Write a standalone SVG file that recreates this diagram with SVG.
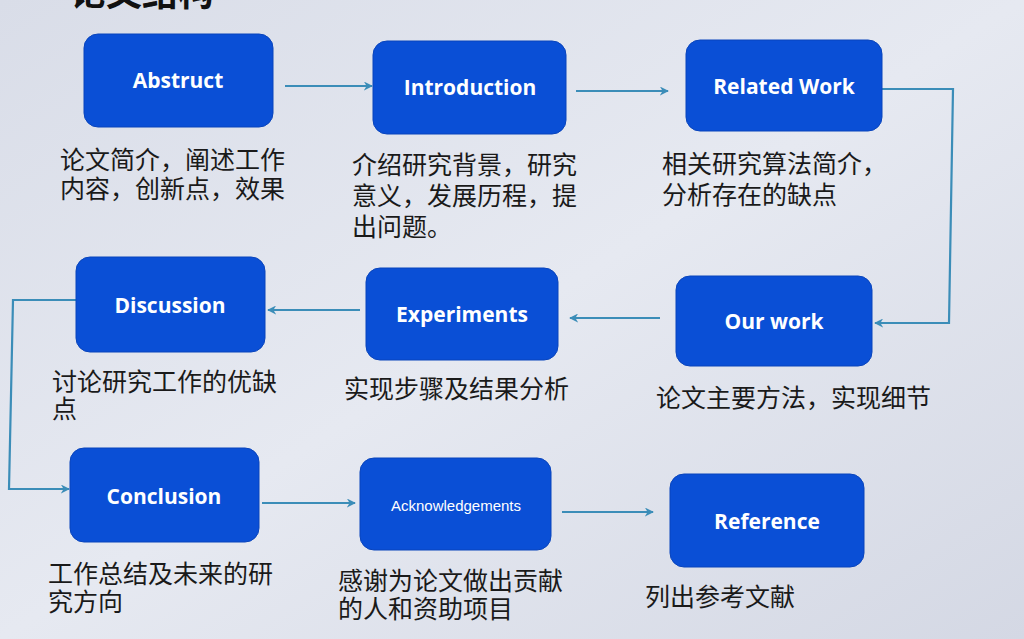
<svg xmlns="http://www.w3.org/2000/svg" width="1024" height="639" viewBox="0 0 1024 639">
<defs>
<linearGradient id="bg" x1="0" y1="0" x2="1" y2="1">
<stop offset="0" stop-color="#d9dde8"/>
<stop offset="0.5" stop-color="#e6e9f1"/>
<stop offset="1" stop-color="#d4d8e4"/>
</linearGradient>
<marker id="ah" viewBox="0 0 10 10" refX="9" refY="5" markerWidth="9" markerHeight="9" markerUnits="userSpaceOnUse" orient="auto">
<path d="M0,0 L10,5 L0,10 L3,5 Z" fill="#3b8db8"/>
</marker>
</defs>
<style>
.box{fill:#0a4fd6;stroke:#0944bc;stroke-width:1}
.lbl{fill:#ffffff;font-family:"Open Sans","Liberation Sans",sans-serif;font-weight:700;font-size:21px;text-anchor:middle}
.lbl2{fill:#ffffff;font-family:"Liberation Sans",sans-serif;font-size:15px;text-anchor:middle}
.desc{fill:#1a1a1a;font-family:"Noto Sans CJK SC",sans-serif;font-size:25px}
.con{fill:none;stroke:#3b8db8;stroke-width:2.2;marker-end:url(#ah)}
</style>
<rect width="1024" height="639" fill="url(#bg)"/>
<text x="70" y="6" style="fill:#111;font-family:'Noto Sans CJK SC',sans-serif;font-weight:700;font-size:36px">论文结构</text>
<g id="connectors">
<path class="con" d="M285,86 L372,86"/>
<path class="con" d="M576,91 L668,91"/>
<path class="con" d="M882,89 L953,89 L949,323 L875,323"/>
<path class="con" d="M660,318 L570,318"/>
<path class="con" d="M360,310 L268,310"/>
<path class="con" d="M76,300 L13,300 L9,489 L69,489"/>
<path class="con" d="M262,503 L355,503"/>
<path class="con" d="M562,512 L653,512"/>
</g>
<g id="abstruct">
<rect class="box" x="84" y="34" width="189" height="93" rx="14"/>
<text class="lbl" x="178" y="88">Abstruct</text>
<text class="desc" x="60" y="169">论文简介，阐述工作</text>
<text class="desc" x="60" y="198">内容，创新点，效果</text>
</g>
<g id="introduction">
<rect class="box" x="373" y="41" width="193" height="93" rx="14"/>
<text class="lbl" x="470" y="95">Introduction</text>
<text class="desc" x="352" y="174">介绍研究背景，研究</text>
<text class="desc" x="352" y="205">意义，发展历程，提</text>
<text class="desc" x="352" y="236">出问题。</text>
</g>
<g id="related-work">
<rect class="box" x="686" y="40" width="196" height="91" rx="14"/>
<text class="lbl" x="784" y="94">Related Work</text>
<text class="desc" x="662" y="173">相关研究算法简介，</text>
<text class="desc" x="662" y="204">分析存在的缺点</text>
</g>
<g id="our-work">
<rect class="box" x="676" y="276" width="196" height="90" rx="14"/>
<text class="lbl" x="774" y="329">Our work</text>
<text class="desc" x="656" y="407">论文主要方法，实现细节</text>
</g>
<g id="experiments">
<rect class="box" x="366" y="268" width="192" height="92" rx="14"/>
<text class="lbl" x="462" y="322">Experiments</text>
<text class="desc" x="344" y="398">实现步骤及结果分析</text>
</g>
<g id="discussion">
<rect class="box" x="76" y="257" width="189" height="95" rx="14"/>
<text class="lbl" x="170" y="313">Discussion</text>
<text class="desc" x="52" y="391">讨论研究工作的优缺</text>
<text class="desc" x="52" y="418">点</text>
</g>
<g id="conclusion">
<rect class="box" x="70" y="448" width="189" height="94" rx="14"/>
<text class="lbl" x="164" y="504">Conclusion</text>
<text class="desc" x="48" y="583">工作总结及未来的研</text>
<text class="desc" x="48" y="611">究方向</text>
</g>
<g id="acknowledgements">
<rect class="box" x="360" y="458" width="191" height="92" rx="14"/>
<text class="lbl2" x="456" y="511">Acknowledgements</text>
<text class="desc" x="338" y="590">感谢为论文做出贡献</text>
<text class="desc" x="338" y="618">的人和资助项目</text>
</g>
<g id="reference">
<rect class="box" x="670" y="474" width="194" height="93" rx="14"/>
<text class="lbl" x="767" y="529">Reference</text>
<text class="desc" x="645" y="606">列出参考文献</text>
</g>
</svg>
